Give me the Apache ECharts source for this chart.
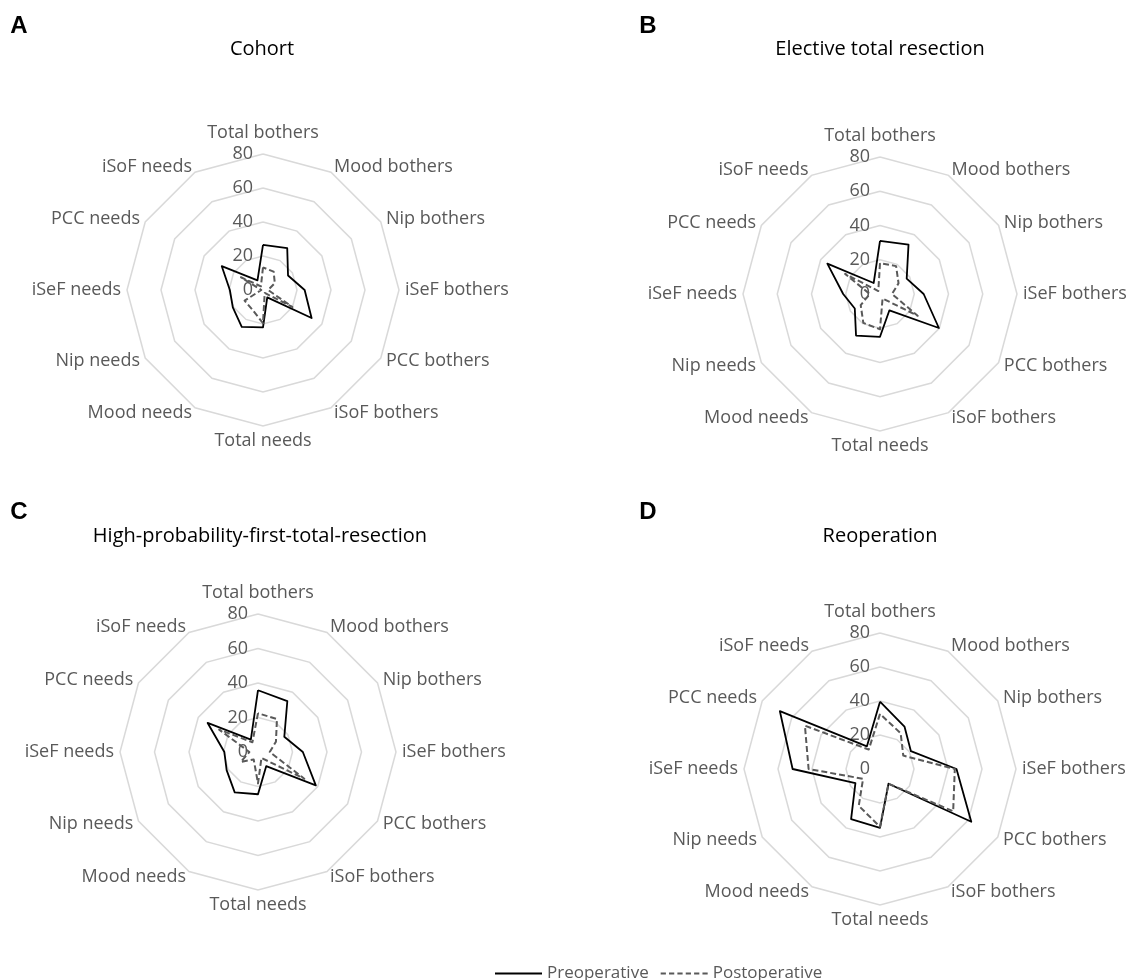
<!DOCTYPE html>
<html>
<head>
<meta charset="utf-8">
<title>Patient concerns radar charts</title>
<script src="https://cdn.jsdelivr.net/npm/echarts@6/dist/echarts.min.js"></script>
<style>
  html, body { margin: 0; padding: 0; background: #fff; }
  #chart { width: 1132px; height: 980px; }
</style>
</head>
<body>
<div id="chart"></div>
<script>
// Indicator order, clockwise from the top
const indicators = ['Total bothers', 'Mood bothers', 'Nip bothers', 'iSeF bothers', 'PCC bothers', 'iSoF bothers',
                    'Total needs', 'Mood needs', 'Nip needs', 'iSeF needs', 'PCC needs', 'iSoF needs'];
const panelLetters = ['A', 'B', 'C', 'D'];
const panelTitles = ['Cohort', 'Elective total resection', 'High-probability-first-total-resection', 'Reoperation'];
const seriesNames = ['Preoperative', 'Postoperative'];
const axisMin = 0;
const axisMax = 80;
const tickStep = 20;

// Scores per panel (same order as indicators)
const cohortPre       = [26.5, 28.5, 17.0, 24.5, 33.0, 5.0, 22.0, 25.0, 20.5, 19.5, 28.0, 6.5];
const cohortPost      = [13.3, 12.5, 8.0, 3.0, 20.0, 2.0, 19.5, 13.0, 12.5, 1.0, 15.0, 2.5];
const electivePre     = [31.0, 33.3, 18.0, 25.5, 39.7, 11.0, 25.0, 28.0, 17.0, 21.5, 35.5, 7.4];
const electivePost    = [18.0, 18.8, 12.5, 7.0, 25.4, 3.0, 20.6, 19.5, 13.0, 6.0, 23.5, 2.0];
const highProbPre     = [35.8, 34.0, 17.6, 26.0, 38.7, 9.5, 24.5, 27.0, 21.0, 19.5, 33.7, 8.3];
const highProbPost    = [22.5, 22.0, 12.0, 6.8, 31.0, 4.0, 18.2, 5.0, 11.5, 5.0, 26.0, 6.5];
const reoperationPre  = [39.6, 28.8, 21.0, 45.0, 62.0, 10.0, 34.6, 34.0, 16.7, 51.4, 68.0, 15.4];
const reoperationPost = [32.4, 24.3, 15.8, 44.0, 49.7, 10.0, 34.0, 25.0, 11.5, 42.0, 51.0, 13.2];

const preValues = [cohortPre, electivePre, highProbPre, reoperationPre];
const postValues = [cohortPost, electivePost, highProbPost, reoperationPost];

// The radar lays indicators out counter-clockwise, so keep the first one at the top
// and feed the rest in reverse to run them clockwise.
function clockwise(arr) {
  return [arr[0]].concat(arr.slice(1).reverse());
}

// Layout of the four panels
const layout = [
  { cx: 263, cy: 290, r: 136, titleX: 262, titleY: 49, letterX: 19, letterY: 26 },
  { cx: 880, cy: 294, r: 137, titleX: 880, titleY: 49, letterX: 648, letterY: 26 },
  { cx: 258, cy: 752, r: 138, titleX: 260, titleY: 536, letterX: 19, letterY: 512 },
  { cx: 880, cy: 769, r: 136, titleX: 880, titleY: 536, letterX: 648, letterY: 512 }
];

const FONT = '"Open Sans", "Noto Sans", sans-serif';
const GREY = '#595959';
const GRID = '#d9d9d9';

const radars = layout.map(function (p) {
  return {
    center: [p.cx, p.cy],
    radius: p.r,
    startAngle: 90,
    shape: 'polygon',
    splitNumber: (axisMax - axisMin) / tickStep,
    nameGap: 6,
    indicator: clockwise(indicators).map(function (name, j) {
      const ind = { name: name, min: axisMin, max: axisMax };
      if (j === 0) {
        ind.axisLabel = {
          show: true, color: GREY, fontSize: 18, fontFamily: FONT, margin: 10,
          showMinLabel: true, showMaxLabel: true
        };
      }
      return ind;
    }),
    axisName: {
      color: GREY,
      fontSize: 18,
      fontFamily: FONT,
      formatter: function (name) {
        return name === indicators[0] ? '{top|' + name + '}' : name;
      },
      rich: {
        top: { color: GREY, fontSize: 18, fontFamily: FONT, padding: [0, 0, 6, 0] }
      }
    },
    splitLine: { lineStyle: { color: GRID, width: 1.5 } },
    splitArea: { show: false },
    axisLine: { show: false },
    axisTick: { show: false }
  };
});

const series = [];
layout.forEach(function (p, i) {
  series.push({
    type: 'radar', radarIndex: i, name: seriesNames[0], symbol: 'none', silent: true,
    itemStyle: { color: '#000000' },
    lineStyle: { color: '#000000', width: 1.8, type: 'solid' },
    data: [{ value: clockwise(preValues[i]), name: seriesNames[0] }]
  });
  series.push({
    type: 'radar', radarIndex: i, name: seriesNames[1], symbol: 'none', silent: true,
    itemStyle: { color: GREY },
    lineStyle: { color: GREY, width: 2, type: [6, 3] },
    data: [{ value: clockwise(postValues[i]), name: seriesNames[1] }]
  });
});

const graphics = [];
layout.forEach(function (p, i) {
  graphics.push({
    type: 'text', silent: true,
    style: { text: panelLetters[i], x: p.letterX, y: p.letterY, align: 'center', verticalAlign: 'middle',
             fontSize: 24, fontWeight: 'bold', fontFamily: '"Liberation Sans", Arial, sans-serif', fill: '#000' }
  });
  graphics.push({
    type: 'text', silent: true,
    style: { text: panelTitles[i], x: p.titleX, y: p.titleY, align: 'center', verticalAlign: 'middle',
             fontSize: 20, fontFamily: FONT, fill: '#000' }
  });
});

const chart = echarts.init(document.getElementById('chart'), null, { renderer: 'canvas', width: 1132, height: 980 });
chart.setOption({
  backgroundColor: '#ffffff',
  animation: false,
  radar: radars,
  legend: {
    left: 490, top: 960,
    itemWidth: 47, itemHeight: 2, itemGap: 12,
    symbolKeepAspect: false,
    selectedMode: false,
    textStyle: { color: GREY, fontSize: 17, fontFamily: FONT },
    data: [
      { name: seriesNames[0], icon: 'path://M0,0h47v2h-47z' },
      { name: seriesNames[1], icon: 'path://M0,0h5v2h-5zM8,0h5v2h-5zM16,0h5v2h-5zM24,0h5v2h-5zM32,0h5v2h-5zM40,0h5v2h-5z' }
    ]
  },
  graphic: graphics,
  series: series
});
</script>
</body>
</html>
